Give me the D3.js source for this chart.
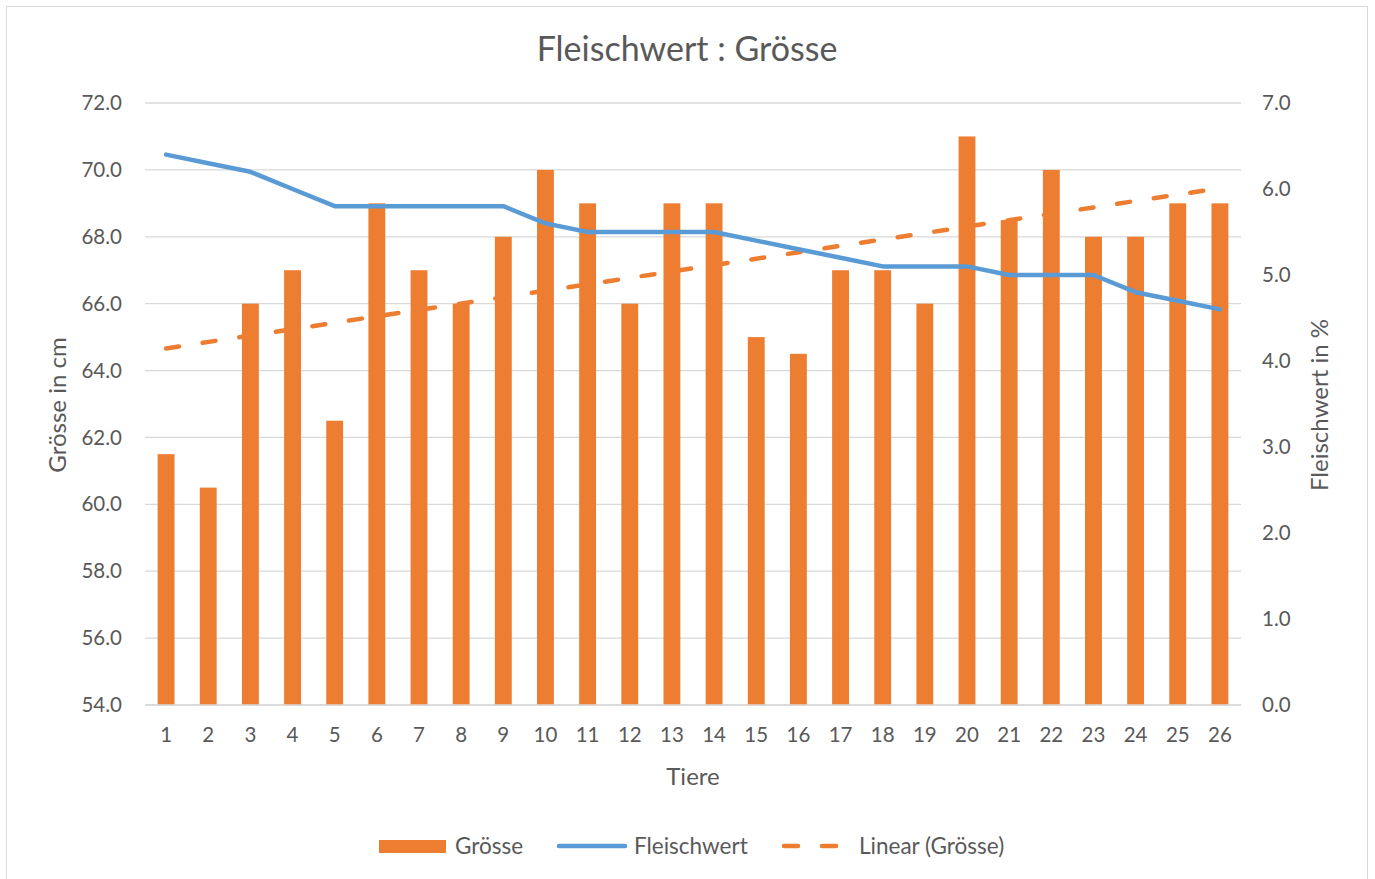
<!DOCTYPE html>
<html>
<head>
<meta charset="utf-8">
<script src="https://cdn.jsdelivr.net/npm/d3@7"></script>
<style>
  body { margin: 0; background: #fff; }
  text { font-family: Lato, "Open Sans", sans-serif; fill: #595959; }
</style>
</head>
<body>
<div id="chart"></div>
<script>
// data
const tiere = d3.range(1, 27).map(String);
const groesse = [61.5, 60.5, 66, 67, 62.5, 69, 67, 66, 68, 70, 69, 66, 69, 69, 65, 64.5, 67, 67, 66, 71, 68.5, 70, 68, 68, 69, 69];
const fleischwert = [6.4, 6.3, 6.2, 6.0, 5.8, 5.8, 5.8, 5.8, 5.8, 5.6, 5.5, 5.5, 5.5, 5.5, 5.4, 5.3, 5.2, 5.1, 5.1, 5.1, 5.0, 5.0, 5.0, 4.8, 4.7, 4.6];
const leftTicks = [54, 56, 58, 60, 62, 64, 66, 68, 70, 72];
const rightTicks = [0, 1, 2, 3, 4, 5, 6, 7];

const width = 1375, height = 879;
const margin = { top: 103, right: 134, bottom: 174, left: 145 };
const orange = "#ED7D31", blue = "#5B9BD5";

const svg = d3.select("#chart").append("svg")
  .attr("width", width).attr("height", height);

// outer frame
svg.append("rect")
  .attr("x", 6.5).attr("y", 6.5)
  .attr("width", 1361).attr("height", 890)
  .attr("fill", "none").attr("stroke", "#D9D9D9");

const x = d3.scaleBand()
  .domain(tiere)
  .range([margin.left, width - margin.right])
  .paddingInner(0.6).paddingOuter(0.3);

const y = d3.scaleLinear().domain([54, 72]).range([height - margin.bottom, margin.top]);
const y2 = d3.scaleLinear().domain([0, 7]).range([height - margin.bottom, margin.top]);

const cx = d => x(d) + x.bandwidth() / 2;

// gridlines
svg.append("g")
  .selectAll("line")
  .data(leftTicks)
  .join("line")
  .attr("x1", margin.left).attr("x2", width - margin.right)
  .attr("y1", d => y(d)).attr("y2", d => y(d))
  .attr("stroke", "#D9D9D9").attr("stroke-width", 1.3);

// left axis
const yAxis = g => g
  .attr("transform", `translate(${margin.left - 20}, 0)`)
  .call(d3.axisLeft(y).tickValues(leftTicks).tickFormat(d3.format(".1f")).tickSize(0))
  .call(g => g.select(".domain").remove())
  .call(g => g.selectAll("text").attr("font-size", 20.5).attr("fill", "#595959"));
svg.append("g").call(yAxis);

// right axis
const y2Axis = g => g
  .attr("transform", `translate(${width - margin.right + 18}, 0)`)
  .call(d3.axisRight(y2).tickValues(rightTicks).tickFormat(d3.format(".1f")).tickSize(0))
  .call(g => g.select(".domain").remove())
  .call(g => g.selectAll("text").attr("font-size", 20.5).attr("fill", "#595959"));
svg.append("g").call(y2Axis);

// bars
svg.append("g")
  .selectAll("rect")
  .data(groesse)
  .join("rect")
  .attr("fill", orange)
  .attr("x", (d, i) => x(tiere[i]))
  .attr("width", x.bandwidth())
  .attr("y", d => y(d))
  .attr("height", d => y(54) - y(d));

// baseline over bars
svg.append("line")
  .attr("x1", margin.left).attr("x2", width - margin.right)
  .attr("y1", y(54)).attr("y2", y(54))
  .attr("stroke", "#D9D9D9").attr("stroke-width", 1.3);

// x axis labels
const xAxis = g => g
  .attr("transform", `translate(0, ${y(54) + 19})`)
  .call(d3.axisBottom(x).tickSize(0))
  .call(g => g.select(".domain").remove())
  .call(g => g.selectAll("text").attr("font-size", 20.5).attr("fill", "#595959"));
svg.append("g").call(xAxis);

// linear trend of Grösse (least squares)
const xs = groesse.map((d, i) => i + 1);
const mx = d3.mean(xs), my = d3.mean(groesse);
const slope = d3.sum(xs, (v, i) => (v - mx) * (groesse[i] - my)) / d3.sum(xs, v => (v - mx) ** 2);
const icpt = my - slope * mx;
const trend = [1, 26].map(v => [v, icpt + slope * v]);

svg.append("path")
  .datum(trend)
  .attr("fill", "none")
  .attr("stroke", orange)
  .attr("stroke-width", 4.5)
  .attr("stroke-linecap", "round")
  .attr("stroke-dasharray", "13 24")
  .attr("d", d3.line().x(d => cx(String(d[0]))).y(d => y(d[1])));

// Fleischwert line
svg.append("path")
  .datum(fleischwert)
  .attr("fill", "none")
  .attr("stroke", blue)
  .attr("stroke-width", 4.5)
  .attr("stroke-linecap", "round")
  .attr("stroke-linejoin", "round")
  .attr("d", d3.line().x((d, i) => cx(tiere[i])).y(d => y2(d)));

// title
svg.append("text")
  .attr("x", 687).attr("y", 61)
  .attr("text-anchor", "middle")
  .attr("font-size", 34)
  .text("Fleischwert : Grösse");

// axis titles
svg.append("text")
  .attr("x", 693).attr("y", 785)
  .attr("text-anchor", "middle")
  .attr("font-size", 24)
  .text("Tiere");

svg.append("text")
  .attr("transform", "translate(66, 405) rotate(-90)")
  .attr("text-anchor", "middle")
  .attr("font-size", 24)
  .text("Grösse in cm");

svg.append("text")
  .attr("transform", "translate(1328, 405) rotate(-90)")
  .attr("text-anchor", "middle")
  .attr("font-size", 24)
  .text("Fleischwert in %");

// legend
const legend = svg.append("g").attr("font-size", 22.5);
legend.append("rect")
  .attr("x", 379).attr("y", 840).attr("width", 67).attr("height", 13)
  .attr("fill", orange);
legend.append("text").attr("x", 455).attr("y", 854).text("Grösse");

legend.append("line")
  .attr("x1", 559).attr("x2", 625).attr("y1", 846).attr("y2", 846)
  .attr("stroke", blue).attr("stroke-width", 4.5).attr("stroke-linecap", "round");
legend.append("text").attr("x", 634).attr("y", 854).text("Fleischwert");

legend.append("line")
  .attr("x1", 784).attr("x2", 840).attr("y1", 846).attr("y2", 846)
  .attr("stroke", orange).attr("stroke-width", 4.5).attr("stroke-linecap", "round")
  .attr("stroke-dasharray", "14 24");
legend.append("text").attr("x", 859).attr("y", 854).text("Linear (Grösse)");
</script>
</body>
</html>
